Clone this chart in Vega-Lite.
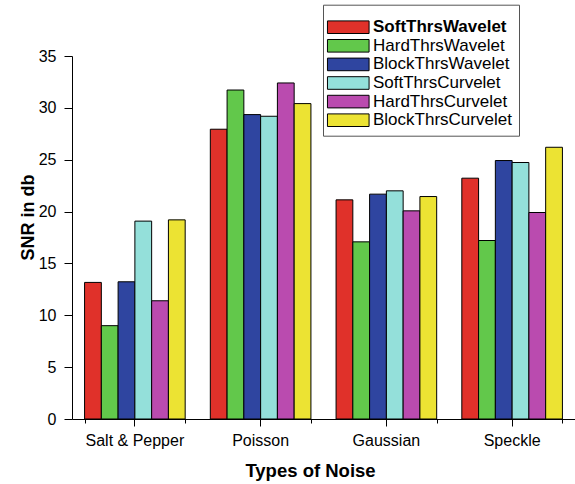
{
  "$schema": "https://vega.github.io/schema/vega-lite/v6.json",
  "width": 503,
  "height": 363,
  "autosize": {"type": "none"},
  "padding": {"left": 72, "top": 56, "right": 0, "bottom": 65},
  "background": "white",
  "config": {
    "font": "Liberation Sans",
    "view": {"stroke": null},
    "axis": {"grid": false, "domainColor": "black", "tickColor": "black", "labelColor": "black", "titleColor": "black", "labelFont": "Liberation Sans", "titleFont": "Liberation Sans"}
  },
  "data": {
    "values": [
      {"noise": "Salt & Pepper", "method": "SoftThrsWavelet", "snr": 13.17},
      {"noise": "Salt & Pepper", "method": "HardThrsWavelet", "snr": 9.0},
      {"noise": "Salt & Pepper", "method": "BlockThrsWavelet", "snr": 13.23},
      {"noise": "Salt & Pepper", "method": "SoftThrsCurvelet", "snr": 19.08},
      {"noise": "Salt & Pepper", "method": "HardThrsCurvelet", "snr": 11.4},
      {"noise": "Salt & Pepper", "method": "BlockThrsCurvelet", "snr": 19.2},
      {"noise": "Poisson", "method": "SoftThrsWavelet", "snr": 27.94},
      {"noise": "Poisson", "method": "HardThrsWavelet", "snr": 31.72},
      {"noise": "Poisson", "method": "BlockThrsWavelet", "snr": 29.35},
      {"noise": "Poisson", "method": "SoftThrsCurvelet", "snr": 29.19},
      {"noise": "Poisson", "method": "HardThrsCurvelet", "snr": 32.4},
      {"noise": "Poisson", "method": "BlockThrsCurvelet", "snr": 30.41},
      {"noise": "Gaussian", "method": "SoftThrsWavelet", "snr": 21.13},
      {"noise": "Gaussian", "method": "HardThrsWavelet", "snr": 17.08},
      {"noise": "Gaussian", "method": "BlockThrsWavelet", "snr": 21.68},
      {"noise": "Gaussian", "method": "SoftThrsCurvelet", "snr": 22.0},
      {"noise": "Gaussian", "method": "HardThrsCurvelet", "snr": 20.07},
      {"noise": "Gaussian", "method": "BlockThrsCurvelet", "snr": 21.45},
      {"noise": "Speckle", "method": "SoftThrsWavelet", "snr": 23.22},
      {"noise": "Speckle", "method": "HardThrsWavelet", "snr": 17.21},
      {"noise": "Speckle", "method": "BlockThrsWavelet", "snr": 24.92},
      {"noise": "Speckle", "method": "SoftThrsCurvelet", "snr": 24.73},
      {"noise": "Speckle", "method": "HardThrsCurvelet", "snr": 19.91},
      {"noise": "Speckle", "method": "BlockThrsCurvelet", "snr": 26.2}
    ]
  },
  "resolve": {"axis": {"x": "independent"}},
  "layer": [
    {
      "mark": {"type": "bar", "stroke": "black", "strokeWidth": 1},
      "encoding": {
        "x": {
          "field": "noise", "type": "nominal",
          "sort": ["Salt & Pepper", "Poisson", "Gaussian", "Speckle"],
          "scale": {"paddingInner": 0.2, "paddingOuter": 0.1},
          "axis": {
            "orient": "bottom", "title": "Types of Noise", "labelAngle": 0,
            "labelFontSize": 16, "labelBaseline": "alphabetic", "labelPadding": 19.7,
            "tickSize": 7, "titleFontSize": 18.5, "titleFontWeight": "bold",
            "titleX": 238, "titleY": 57.7, "titleBaseline": "alphabetic"
          }
        },
        "xOffset": {
          "field": "method", "type": "nominal",
          "sort": ["SoftThrsWavelet", "HardThrsWavelet", "BlockThrsWavelet", "SoftThrsCurvelet", "HardThrsCurvelet", "BlockThrsCurvelet"],
          "scale": {"paddingInner": 0, "paddingOuter": 0}
        },
        "y": {
          "field": "snr", "type": "quantitative",
          "scale": {"domain": [0, 35], "nice": false},
          "axis": {
            "title": "SNR in db",
            "values": [0, 2.5, 5, 7.5, 10, 12.5, 15, 17.5, 20, 22.5, 25, 27.5, 30, 32.5, 35],
            "labelExpr": "datum.value % 5 === 0 ? datum.label : ''",
            "tickSize": {"condition": {"test": "datum.value % 5 !== 0", "value": 4}, "value": 8},
            "labelPadding": 8, "labelFontSize": 16,
            "titleFontSize": 18, "titleFontWeight": "bold",
            "titleX": -35, "titleY": 161
          }
        },
        "fill": {
          "field": "method", "type": "nominal",
          "sort": ["SoftThrsWavelet", "HardThrsWavelet", "BlockThrsWavelet", "SoftThrsCurvelet", "HardThrsCurvelet", "BlockThrsCurvelet"],
          "scale": {
            "domain": ["SoftThrsWavelet", "HardThrsWavelet", "BlockThrsWavelet", "SoftThrsCurvelet", "HardThrsCurvelet", "BlockThrsCurvelet"],
            "range": ["#e0312a", "#62c84b", "#2f45a0", "#94e0da", "#ba4baf", "#ece333"]
          },
          "legend": {
            "title": " ", "titleFontSize": 7, "titlePadding": 0,
            "orient": "none", "legendX": 251, "legendY": -51.3,
            "padding": 7, "strokeColor": "#555555", "fillColor": "white",
            "labelFontSize": 17, "labelFont": "Liberation Sans", "labelColor": "black",
            "symbolType": "M-1.75,-1H4.85V1H-1.75Z", "symbolSize": 159,
            "symbolStrokeColor": "black", "symbolStrokeWidth": 1, "symbolOpacity": 1,
            "labelOffset": 26, "rowPadding": 0.6,
            "encode": {"labels": {"update": {"fontWeight": {"signal": "datum.value === 'SoftThrsWavelet' ? 'bold' : 'normal'"}}}}
          }
        }
      }
    },
    {
      "mark": {"type": "bar", "opacity": 0, "strokeOpacity": 0},
      "encoding": {
        "x": {
          "field": "noise", "type": "nominal",
          "sort": ["Salt & Pepper", "Poisson", "Gaussian", "Speckle"],
          "axis": {"orient": "bottom", "title": null, "labels": false, "domain": false, "tickBand": "extent", "tickSize": 4}
        },
        "xOffset": {
          "field": "method", "type": "nominal",
          "sort": ["SoftThrsWavelet", "HardThrsWavelet", "BlockThrsWavelet", "SoftThrsCurvelet", "HardThrsCurvelet", "BlockThrsCurvelet"]
        },
        "y": {"field": "snr", "type": "quantitative"}
      }
    }
  ]
}
